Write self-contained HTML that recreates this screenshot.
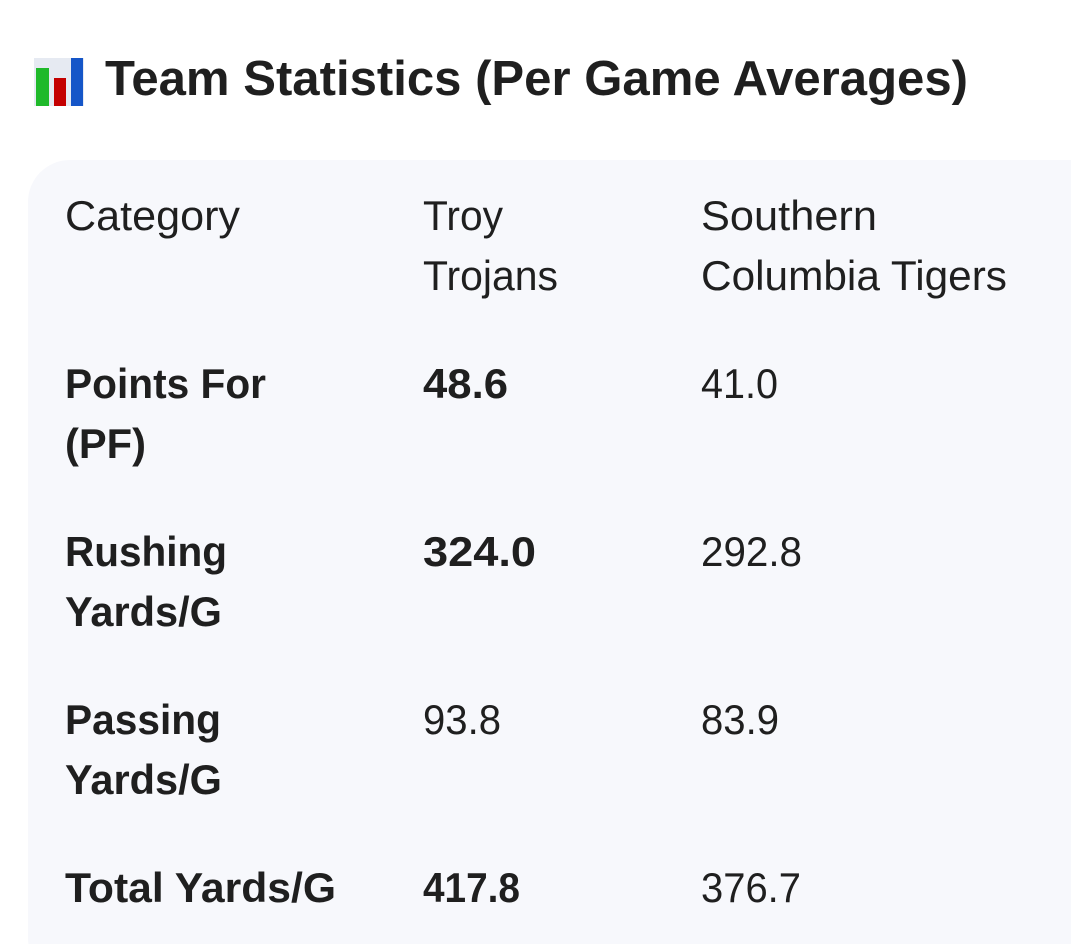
<!DOCTYPE html>
<html><head><meta charset="utf-8"><style>
html,body{margin:0;padding:0;background:#fff;width:1071px;height:944px;overflow:hidden}
svg{display:block}
text{font-family:"Liberation Sans",sans-serif;fill:#1f1f1f}
.b{font-size:42px}
.bb{font-size:42px;font-weight:bold}
</style></head><body>
<svg width="1071" height="944">
<g>
<rect x="34" y="58" width="50" height="48" fill="#e6eaf2"/>
<rect x="36" y="68" width="13" height="38" fill="#1fb92a"/>
<rect x="54" y="78" width="12" height="28" fill="#c40000"/>
<rect x="71" y="58" width="12" height="48" fill="#1556c8"/>
</g>
<text x="105" y="95" font-size="49" font-weight="bold" textLength="863" lengthAdjust="spacingAndGlyphs">Team Statistics (Per Game Averages)</text>
<rect x="28" y="160" width="1100" height="820" rx="42" fill="#f7f8fc"/>
<g>
<text class="b" x="65" y="230" textLength="175" lengthAdjust="spacingAndGlyphs">Category</text>
<text class="b" x="423" y="230" textLength="80" lengthAdjust="spacingAndGlyphs">Troy</text>
<text class="b" x="423" y="290" textLength="135" lengthAdjust="spacingAndGlyphs">Trojans</text>
<text class="b" x="701" y="230" textLength="176" lengthAdjust="spacingAndGlyphs">Southern</text>
<text class="b" x="701" y="290" textLength="306" lengthAdjust="spacingAndGlyphs">Columbia Tigers</text>

<text class="bb" x="65" y="398" textLength="201" lengthAdjust="spacingAndGlyphs">Points For</text>
<text class="bb" x="65" y="458" textLength="81" lengthAdjust="spacingAndGlyphs">(PF)</text>
<text class="bb" x="423" y="398" textLength="85" lengthAdjust="spacingAndGlyphs">48.6</text>
<text class="b" x="701" y="398" textLength="77" lengthAdjust="spacingAndGlyphs">41.0</text>

<text class="bb" x="65" y="566" textLength="162" lengthAdjust="spacingAndGlyphs">Rushing</text>
<text class="bb" x="65" y="626" textLength="157" lengthAdjust="spacingAndGlyphs">Yards/G</text>
<text class="bb" x="423" y="566" textLength="113" lengthAdjust="spacingAndGlyphs">324.0</text>
<text class="b" x="701" y="566" textLength="101" lengthAdjust="spacingAndGlyphs">292.8</text>

<text class="bb" x="65" y="734" textLength="156" lengthAdjust="spacingAndGlyphs">Passing</text>
<text class="bb" x="65" y="794" textLength="157" lengthAdjust="spacingAndGlyphs">Yards/G</text>
<text class="b" x="423" y="734" textLength="78" lengthAdjust="spacingAndGlyphs">93.8</text>
<text class="b" x="701" y="734" textLength="78" lengthAdjust="spacingAndGlyphs">83.9</text>

<text class="bb" x="65" y="902" textLength="271" lengthAdjust="spacingAndGlyphs">Total Yards/G</text>
<text class="bb" x="423" y="902" textLength="97" lengthAdjust="spacingAndGlyphs">417.8</text>
<text class="b" x="701" y="902" textLength="100" lengthAdjust="spacingAndGlyphs">376.7</text>
</g>
</svg>
</body></html>
